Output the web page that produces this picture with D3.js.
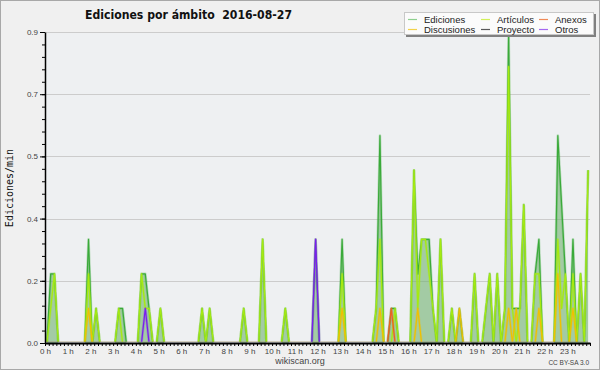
<!DOCTYPE html>
<html>
<head>
<meta charset="utf-8">
<script src="https://cdn.jsdelivr.net/npm/d3@7"></script>
<style>
body { margin: 0; background: #fff; }
svg { display: block; }
</style>
</head>
<body>
<svg id="chart" width="600" height="370"></svg>
<script>
// 10 minute bins, edits per minute
var hourLabels = ["0 h", "1 h", "2 h", "3 h", "4 h", "5 h", "6 h", "7 h", "8 h", "9 h", "10 h", "11 h",
    "12 h", "13 h", "14 h", "15 h", "16 h", "17 h", "18 h", "19 h", "20 h", "21 h", "22 h", "23 h"];
var yTicks = [0, 0.18, 0.36, 0.54, 0.72, 0.9];

var ediciones = [
    0, .2, .2, 0, 0, 0, 0, 0, 0, 0, 0, .3,
    0, .1, 0, 0, 0, 0, 0, .1, .1, 0, 0, 0,
    0, .2, .2, .1, 0, 0, .1, 0, 0, 0, 0, 0,
    0, 0, 0, 0, 0, .1, 0, .1, 0, 0, 0, 0,
    0, 0, 0, 0, .1, 0, 0, 0, 0, .3, 0, 0,
    0, 0, 0, .1, 0, 0, 0, 0, 0, 0, 0, .3,
    0, 0, 0, 0, 0, 0, .3, 0, 0, 0, 0, 0,
    0, 0, 0, .1, .6, 0, 0, .1, .1, 0, 0, 0,
    0, .5, .2, .3, .3, .3, .1, 0, .3, 0, 0, .1,
    0, .1, 0, 0, 0, .2, 0, 0, .1, .2, 0, .2,
    0, .1, .9, .1, .1, .1, .4, 0, 0, .2, .3, 0,
    0, 0, 0, .6, .4, .2, 0, .3, 0, .2, 0, .5
];
var articulos = [
    0, .1, .2, 0, 0, 0, 0, 0, 0, 0, 0, .2,
    0, .1, 0, 0, 0, 0, 0, .1, 0, 0, 0, 0,
    0, .2, .1, .1, 0, 0, .1, 0, 0, 0, 0, 0,
    0, 0, 0, 0, 0, .1, 0, .1, 0, 0, 0, 0,
    0, 0, 0, 0, .1, 0, 0, 0, 0, .3, 0, 0,
    0, 0, 0, .1, 0, 0, 0, 0, 0, 0, 0, 0,
    0, 0, 0, 0, 0, 0, .2, 0, 0, 0, 0, 0,
    0, 0, 0, .1, .3, 0, 0, 0, .1, 0, 0, 0,
    0, .5, .1, .3, .3, .2, .1, 0, .3, 0, 0, .1,
    0, 0, 0, 0, 0, .2, 0, 0, .1, .2, 0, .2,
    0, .1, .8, .1, 0, .1, .4, 0, 0, .2, .2, 0,
    0, 0, 0, .3, .1, .2, 0, .2, 0, .2, 0, .5
];
var anexos = [
    0, 0, 0, 0, 0, 0, 0, 0, 0, 0, 0, 0,
    0, 0, 0, 0, 0, 0, 0, 0, 0, 0, 0, 0,
    0, 0, 0, 0, 0, 0, 0, 0, 0, 0, 0, 0,
    0, 0, 0, 0, 0, 0, 0, 0, 0, 0, 0, 0,
    0, 0, 0, 0, 0, 0, 0, 0, 0, 0, 0, 0,
    0, 0, 0, 0, 0, 0, 0, 0, 0, 0, 0, 0,
    0, 0, 0, 0, 0, 0, 0, 0, 0, 0, 0, 0,
    0, 0, 0, 0, 0, 0, 0, .1, 0, 0, 0, 0,
    0, 0, 0, 0, 0, 0, 0, 0, 0, 0, 0, 0,
    0, 0, 0, 0, 0, 0, 0, 0, 0, 0, 0, 0,
    0, 0, 0, 0, 0, 0, 0, 0, 0, 0, 0, 0,
    0, 0, 0, 0, 0, 0, 0, 0, 0, 0, 0, 0
];
var discusiones = [
    0, 0, 0, 0, 0, 0, 0, 0, 0, 0, 0, .1,
    0, 0, 0, 0, 0, 0, 0, 0, 0, 0, 0, 0,
    0, 0, 0, 0, 0, 0, 0, 0, 0, 0, 0, 0,
    0, 0, 0, 0, 0, 0, 0, 0, 0, 0, 0, 0,
    0, 0, 0, 0, 0, 0, 0, 0, 0, 0, 0, 0,
    0, 0, 0, 0, 0, 0, 0, 0, 0, 0, 0, 0,
    0, 0, 0, 0, 0, 0, .1, 0, 0, 0, 0, 0,
    0, 0, 0, 0, .1, 0, 0, 0, 0, 0, 0, 0,
    0, 0, .1, 0, 0, 0, 0, 0, 0, 0, 0, 0,
    0, .1, 0, 0, 0, 0, 0, 0, 0, 0, 0, 0,
    0, 0, .1, 0, .1, 0, 0, 0, 0, 0, .1, 0,
    0, 0, 0, .2, 0, 0, 0, .1, 0, 0, 0, 0
];
var proyecto = [
    0, 0, 0, 0, 0, 0, 0, 0, 0, 0, 0, 0,
    0, 0, 0, 0, 0, 0, 0, 0, 0, 0, 0, 0,
    0, 0, 0, 0, 0, 0, 0, 0, 0, 0, 0, 0,
    0, 0, 0, 0, 0, 0, 0, 0, 0, 0, 0, 0,
    0, 0, 0, 0, 0, 0, 0, 0, 0, 0, 0, 0,
    0, 0, 0, 0, 0, 0, 0, 0, 0, 0, 0, 0,
    0, 0, 0, 0, 0, 0, 0, 0, 0, 0, 0, 0,
    0, 0, 0, 0, 0, 0, 0, 0, 0, 0, 0, 0,
    0, 0, 0, 0, 0, 0, 0, 0, 0, 0, 0, 0,
    0, 0, 0, 0, 0, 0, 0, 0, 0, 0, 0, 0,
    0, 0, 0, 0, 0, 0, 0, 0, 0, 0, 0, 0,
    0, 0, 0, 0, 0, 0, 0, 0, 0, 0, 0, 0
];
var otros = [
    0, 0, 0, 0, 0, 0, 0, 0, 0, 0, 0, 0,
    0, 0, 0, 0, 0, 0, 0, 0, 0, 0, 0, 0,
    0, 0, .1, 0, 0, 0, 0, 0, 0, 0, 0, 0,
    0, 0, 0, 0, 0, 0, 0, 0, 0, 0, 0, 0,
    0, 0, 0, 0, 0, 0, 0, 0, 0, 0, 0, 0,
    0, 0, 0, 0, 0, 0, 0, 0, 0, 0, 0, .3,
    0, 0, 0, 0, 0, 0, 0, 0, 0, 0, 0, 0,
    0, 0, 0, 0, 0, 0, 0, 0, 0, 0, 0, 0,
    0, 0, 0, 0, 0, 0, 0, 0, 0, 0, 0, 0,
    0, 0, 0, 0, 0, 0, 0, 0, 0, 0, 0, 0,
    0, 0, 0, 0, 0, 0, 0, 0, 0, 0, 0, 0,
    0, 0, 0, 0, 0, 0, 0, 0, 0, 0, 0, 0
];

// legend order (column by column), colours
var series = [
    { name: "Ediciones", values: ediciones, color: "#3aaa3a", key: "#8fd08f" },
    { name: "Discusiones", values: discusiones, color: "#f0c000", key: "#f2d24a" },
    { name: "Artículos", values: articulos, color: "#a6ea10", key: "#d2f05a" },
    { name: "Proyecto", values: proyecto, color: "#555555", key: "#5a5a5a" },
    { name: "Anexos", values: anexos, color: "#f06020", key: "#f08a58" },
    { name: "Otros", values: otros, color: "#7a1cf0", key: "#a468f0" }
];
var drawOrder = ["Ediciones", "Artículos", "Anexos", "Discusiones", "Proyecto", "Otros"];

var svg = d3.select("#chart"),
    WIDTH = 600,
    HEIGHT = 370,
    MARGINS = { top: 32, right: 10, bottom: 27, left: 45 };

var x = d3.scaleLinear().domain([0, 144]).range([MARGINS.left, WIDTH - MARGINS.right]),
    y = d3.scaleLinear().domain([0, 0.9]).range([HEIGHT - MARGINS.bottom, MARGINS.top]);

svg.append("rect")
    .attr("x", 0.5).attr("y", 0.5)
    .attr("width", WIDTH - 1).attr("height", HEIGHT - 1)
    .attr("fill", "#f0f0f0")
    .attr("stroke", "#a8a8a8");

svg.append("rect")
    .attr("x", MARGINS.left).attr("y", MARGINS.top)
    .attr("width", WIDTH - MARGINS.right - MARGINS.left)
    .attr("height", HEIGHT - MARGINS.bottom - MARGINS.top)
    .attr("fill", "#eef0f2");

// keep the lines off the zero line
svg.append("clipPath").attr("id", "plotclip")
    .append("rect")
    .attr("x", MARGINS.left).attr("y", 0)
    .attr("width", WIDTH - MARGINS.right - MARGINS.left)
    .attr("height", y(0) - 1.2);

// grid
svg.append("g")
    .selectAll("line")
    .data(yTicks.slice(1))
    .enter().append("line")
    .attr("x1", MARGINS.left).attr("x2", WIDTH - MARGINS.right)
    .attr("y1", function (d) { return Math.round(y(d)) + 0.5; })
    .attr("y2", function (d) { return Math.round(y(d)) + 0.5; })
    .attr("stroke", "#cccccc");

// area under the total
var areaGen = d3.area()
    .x(function (d, i) { return x(i + 0.5); })
    .y0(y(0))
    .y1(function (d) { return y(d); });
svg.append("path")
    .attr("d", areaGen(ediciones))
    .attr("fill", "rgb(108,176,106)")
    .attr("fill-opacity", 0.58);

var lineGen = d3.line()
    .x(function (d, i) { return x(i + 0.5); })
    .y(function (d) { return y(d); });

var lines = svg.append("g").attr("clip-path", "url(#plotclip)");
drawOrder.forEach(function (name) {
    var s = series.find(function (d) { return d.name === name; });
    lines.append("path")
        .attr("d", lineGen(s.values))
        .attr("fill", "none")
        .attr("stroke", s.color)
        .attr("stroke-opacity", 0.3)
        .attr("stroke-width", 2.6)
        .attr("stroke-linejoin", "round");
    lines.append("path")
        .attr("d", lineGen(s.values))
        .attr("fill", "none")
        .attr("stroke", s.color)
        .attr("stroke-width", 1.2)
        .attr("stroke-linejoin", "round");
});

// axes
var axisFont = "'Liberation Sans', Arial, sans-serif";

var yMinor = svg.append("g")
    .attr("transform", "translate(" + MARGINS.left + ",0)")
    .call(d3.axisLeft(y).tickValues(d3.range(0, 0.9001, 0.036)).tickSize(3).tickFormat(""));
yMinor.select(".domain").remove();
yMinor.selectAll("line").attr("stroke", "#000");

var yAxis = svg.append("g")
    .attr("transform", "translate(" + MARGINS.left + ",0)")
    .call(d3.axisLeft(y).tickValues(yTicks).tickFormat(d3.format(".1f")).tickSize(5).tickPadding(2).tickSizeOuter(0));
yAxis.select(".domain").attr("stroke", "#000").attr("stroke-width", 1.5);
yAxis.selectAll("text").attr("font-family", axisFont).attr("font-size", 8).attr("fill", "#444");

var xAxis = svg.append("g")
    .attr("transform", "translate(0," + (HEIGHT - MARGINS.bottom) + ")")
    .call(d3.axisBottom(x).tickValues(d3.range(145)).tickSize(3).tickSizeOuter(0).tickFormat(""));
xAxis.select(".domain").attr("stroke", "#000").attr("stroke-width", 2);

var xLabels = svg.append("g")
    .attr("transform", "translate(0," + (HEIGHT - MARGINS.bottom) + ")")
    .call(d3.axisBottom(x).tickValues(d3.range(24).map(function (h) { return h * 6; }))
        .tickSize(0).tickPadding(5)
        .tickFormat(function (d, i) { return hourLabels[i]; }));
xLabels.select(".domain").remove();
xLabels.selectAll("text").attr("font-family", axisFont).attr("font-size", 8).attr("fill", "#444");

// titles
svg.append("text")
    .attr("x", 85).attr("y", 18.5)
    .attr("font-family", "'DejaVu Sans', sans-serif")
    .attr("font-weight", "bold")
    .attr("font-size", 12)
    .attr("textLength", 207)
    .attr("lengthAdjust", "spacingAndGlyphs")
    .attr("fill", "#111")
    .attr("xml:space", "preserve")
    .text("Ediciones por ámbito  2016-08-27");

svg.append("text")
    .attr("transform", "translate(13,188) rotate(-90)")
    .attr("text-anchor", "middle")
    .attr("font-family", "'DejaVu Sans Mono', monospace")
    .attr("font-size", 10)
    .attr("fill", "#111")
    .text("Ediciones/min");

svg.append("text")
    .attr("x", 300).attr("y", 364)
    .attr("text-anchor", "middle")
    .attr("font-family", axisFont)
    .attr("font-size", 9)
    .attr("fill", "#444")
    .text("wikiscan.org");

svg.append("text")
    .attr("x", 589).attr("y", 365)
    .attr("text-anchor", "end")
    .attr("font-family", axisFont)
    .attr("font-size", 6.5)
    .attr("fill", "#444")
    .text("CC BY-SA 3.0");

// legend
var legend = svg.append("g");
legend.append("rect")
    .attr("x", 406).attr("y", 14).attr("width", 190).attr("height", 23)
    .attr("fill", "#808080");
legend.append("rect")
    .attr("x", 404.5).attr("y", 12.5).attr("width", 189).attr("height", 22)
    .attr("fill", "#fbfbfb")
    .attr("stroke", "#c8c8c8");

var colX = [408, 481, 539],
    rowY = [19, 29];
var item = legend.selectAll("g.item")
    .data(series)
    .enter().append("g")
    .attr("class", "item")
    .attr("transform", function (d, i) {
        return "translate(" + colX[Math.floor(i / 2)] + "," + rowY[i % 2] + ")";
    });
item.append("line")
    .attr("x1", 0).attr("x2", 9)
    .attr("y1", 0.5).attr("y2", 0.5)
    .attr("stroke", function (d) { return d.key; })
    .attr("stroke-width", 1.2);
item.append("text")
    .attr("x", 16).attr("y", 3.5)
    .attr("font-family", axisFont)
    .attr("font-size", 9.5)
    .attr("fill", "#222")
    .text(function (d) { return d.name; });
</script>
</body>
</html>
